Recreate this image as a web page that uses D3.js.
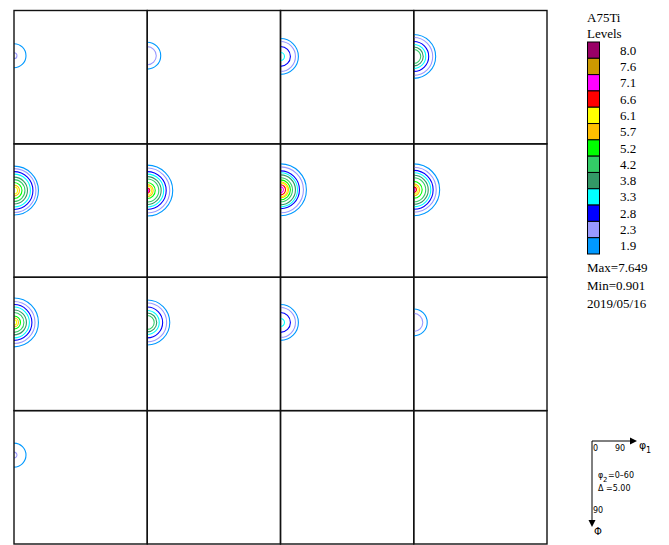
<!DOCTYPE html>
<html>
<head>
<meta charset="utf-8">
<script src="https://cdn.jsdelivr.net/npm/d3@7"></script>
<style>
  body { margin: 0; background: #fff; }
  svg { display: block; }
</style>
</head>
<body>
<div id="chart"></div>
<script>
var width = 669
var height = 545

// legend levels, top to bottom
var levels = [8.0, 7.6, 7.1, 6.6, 6.1, 5.7, 5.2, 4.2, 3.8, 3.3, 2.8, 2.3, 1.9];
var levelColors = ['#990066', '#cc9900', '#ff00ff', '#ff0000', '#ffff00', '#ffc000', '#00ff00',
    '#33cc66', '#339966', '#00ffff', '#0000ff', '#9999ff', '#0099ff'];

// phi2 sections 0..60 step 5
var sections = [0, 5, 10, 15, 20, 25, 30, 35, 40, 45, 50, 55, 60];
// Phi of the peak (at phi1 = 0) in each section, degrees
var peakPhi = [30.5, 30.5, 31, 31, 31.5, 31.5, 31, 31, 30.5, 30.5, 30.5, 30.5, 30];
// contour radii in degrees, lowest level (1.9) first
var contourRadii = [
    [8.1, 2.0],
    [9.1, 6.1],
    [12.1, 10.1, 6.7, 2.7],
    [14.8, 12.8, 10.1, 8.1, 6.4, 4.7],
    [16.5, 14.8, 12.8, 11.1, 9.1, 7.4, 5.4, 3.7, 2.4],
    [17.2, 15.2, 12.8, 11.1, 9.4, 7.8, 5.4, 4.0, 3.0, 1.7, 1.0],
    [17.5, 15.5, 12.8, 11.5, 10.1, 8.1, 6.7, 5.4, 4.7, 3.4, 2.0, 0.5],
    [17.5, 15.2, 13.1, 11.5, 9.8, 8.1, 5.7, 4.0, 3.0, 1.8, 0.9],
    [16.5, 14.2, 12.1, 10.4, 8.4, 6.7, 4.4, 3.0, 1.8],
    [15.2, 13.1, 10.4, 8.1, 6.4, 4.7],
    [12.1, 10.1, 6.7, 2.7],
    [9.1, 6.1],
    [8.1, 2.0]
];

var maxText = 'Max=7.649';
var minText = 'Min=0.901';
var dateText = '2019/05/16';
var title = 'A75Ti';

var svg = d3.select('#chart')
    .append('svg')
    .attr('width', width)
    .attr('height', height);

// grid of 4 x 4 sections
var gridX = d3.scaleLinear().domain([0, 4]).range([14, 547]);
var gridY = d3.scaleLinear().domain([0, 4]).range([10.5, 544]);
var panelW = gridX(1) - gridX(0);
var panelH = gridY(1) - gridY(0);

// phi1 across, Phi down, 0..90 in each panel
var x = d3.scaleLinear().domain([0, 90]).range([0, panelW]);
var y = d3.scaleLinear().domain([0, 90]).range([0, panelH]);

// low-to-high order of the contour colours
var lowLevels = levels.slice().reverse();
var lowColors = levelColors.slice().reverse();

svg.append('defs').append('clipPath')
    .attr('id', 'panelClip')
    .append('rect')
    .attr('width', panelW)
    .attr('height', panelH);

var panels = svg.selectAll('g.panel')
    .data(d3.range(16))
    .enter()
    .append('g')
    .attr('class', 'panel')
    .attr('transform', function(i) {
        return 'translate(' + gridX(i % 4) + ',' + gridY(Math.floor(i / 4)) + ')';
    });

panels.each(function(i) {
    if (i >= sections.length) return;
    var g = d3.select(this).append('g').attr('clip-path', 'url(#panelClip)');
    var cy = y(peakPhi[i]);
    var cx = x(0);
    g.selectAll('path')
        .data(contourRadii[i])
        .enter()
        .append('path')
        .attr('fill', 'none')
        .attr('stroke', function(d, k) { return lowColors[k]; })
        .attr('stroke-width', 1.1)
        .attr('d', function(r) {
            var rp = x(r) - x(0);
            var p = d3.path();
            p.moveTo(cx, cy - rp);
            p.arc(cx, cy, rp, -Math.PI / 2, Math.PI / 2);
            return p.toString();
        });
});

panels.append('rect')
    .attr('width', panelW)
    .attr('height', panelH)
    .attr('fill', 'none')
    .attr('stroke', '#111')
    .attr('stroke-width', 1.4);

// legend
var legend = svg.append('g')
    .attr('transform', 'translate(587,0)')
    .attr('font-family', '"Liberation Serif", "Times New Roman", serif')
    .attr('font-size', 13)
    .attr('fill', '#000');

legend.append('text').attr('x', 0).attr('y', 22).text(title);
legend.append('text').attr('x', 0).attr('y', 38).text('Levels');

var swatchY = d3.scaleBand()
    .domain(levels)
    .range([42, 254]);

legend.selectAll('rect.swatch')
    .data(levels)
    .enter()
    .append('rect')
    .attr('class', 'swatch')
    .attr('x', 0.5)
    .attr('y', function(d) { return swatchY(d); })
    .attr('width', 12)
    .attr('height', swatchY.bandwidth())
    .attr('fill', function(d, k) { return levelColors[k]; })
    .attr('stroke', '#000')
    .attr('stroke-width', 1);

legend.selectAll('text.level')
    .data(levels)
    .enter()
    .append('text')
    .attr('class', 'level')
    .attr('x', 33)
    .attr('y', function(d) { return swatchY(d) + swatchY.bandwidth() / 2 + 4.5; })
    .text(function(d) { return d.toFixed(1); });

legend.append('text').attr('x', 0).attr('y', 272).text(maxText);
legend.append('text').attr('x', 0).attr('y', 290).text(minText);
legend.append('text').attr('x', 0).attr('y', 308).text(dateText);

// axis key
var key = svg.append('g')
    .attr('font-family', '"DejaVu Sans", Verdana, sans-serif')
    .attr('font-size', 8)
    .attr('fill', '#000');

key.append('line')
    .attr('x1', 592).attr('y1', 441).attr('x2', 632).attr('y2', 441)
    .attr('stroke', '#000').attr('stroke-width', 1);
key.append('path')
    .attr('d', 'M637,441 L630,437.5 L630,444.5 Z');
key.append('line')
    .attr('x1', 592).attr('y1', 441).attr('x2', 592).attr('y2', 521)
    .attr('stroke', '#000').attr('stroke-width', 1);
key.append('path')
    .attr('d', 'M592,527 L588.5,520 L595.5,520 Z');

key.append('text').attr('x', 593).attr('y', 451).text('0');
key.append('text').attr('x', 615).attr('y', 451).text('90');
key.append('text').attr('x', 639).attr('y', 449).attr('font-size', 11).text('\u03c6');
key.append('text').attr('x', 646).attr('y', 453).attr('font-size', 8).text('1');

key.append('text').attr('x', 598).attr('y', 478).attr('font-size', 8).text('\u03c6');
key.append('text').attr('x', 603).attr('y', 482).attr('font-size', 7).text('2');
key.append('text').attr('x', 608).attr('y', 478).text('=0\u201360');
key.append('text').attr('x', 598).attr('y', 491).text('\u0394 =5.00');

key.append('text').attr('x', 593).attr('y', 513).text('90');
key.append('text').attr('x', 594).attr('y', 535).attr('font-size', 10).text('\u03a6');
</script>
</body>
</html>
